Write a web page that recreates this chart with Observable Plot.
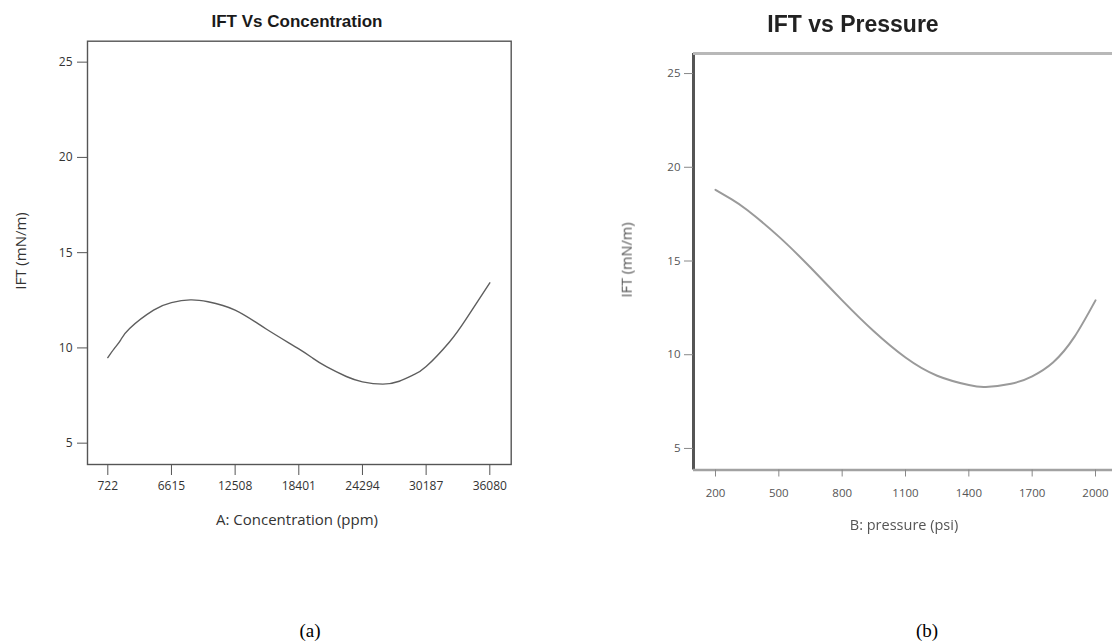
<!DOCTYPE html>
<html>
<head>
<meta charset="utf-8">
<script src="https://cdn.jsdelivr.net/npm/d3@7"></script>
<script src="https://cdn.jsdelivr.net/npm/@observablehq/plot@0.6"></script>
<style>
  html, body { margin: 0; padding: 0; background: #fff; }
  body { width: 1112px; height: 643px; overflow: hidden; position: relative; }
  .panel { position: absolute; top: 0; }
  .panel svg { max-width: none !important; }
  .txt { position: absolute; white-space: nowrap; transform: translate(-50%, -50%); line-height: 1; }
  .title { font-family: "Liberation Sans", Arial, sans-serif; font-weight: bold; color: #1a1a1a; }
  .axlab { font-family: "Open Sans", sans-serif; color: #333; }
  .vert { transform: translate(-50%, -50%) rotate(-90deg); }
  .cap { font-family: "Liberation Serif", "Times New Roman", serif; font-size: 19px; color: #000; }
  .soft { filter: blur(0.5px); }
</style>
</head>
<body>
<div id="panelA" class="panel" style="left:0; width:530px;"></div>
<div id="panelB" class="panel" style="left:560px; width:560px;"></div>

<div class="txt title" style="left:297px; top:21px; font-size:17px;">IFT Vs Concentration</div>
<div class="txt axlab vert" style="left:20px; top:251px; font-size:15px;">IFT (mN/m)</div>
<div class="txt axlab" style="left:297px; top:519px; font-size:15px;">A: Concentration (ppm)</div>

<div class="txt title soft" style="left:853px; top:24px; font-size:23px; color:#222;">IFT vs Pressure</div>
<div class="txt axlab vert soft" style="left:627px; top:260px; font-size:14.5px; color:#555;">IFT (mN/m)</div>
<div class="txt axlab soft" style="left:904px; top:525px; font-size:14.5px; color:#555;">B: pressure (psi)</div>

<div class="txt cap" style="left:310px; top:630px;">(a)</div>
<div class="txt cap" style="left:927px; top:630px;">(b)</div>

<script>
// Panel (a): IFT against surfactant concentration
const concPpm = [722, 1300, 1893, 2740, 4960, 6615, 8350, 10000, 12508, 15420, 18401, 19720, 21000, 22800, 24294, 26180, 27700, 29000, 30187, 32327, 33866, 36080];
const iftConc = [9.49, 9.95, 10.4, 11.02, 11.98, 12.38, 12.52, 12.42, 11.98, 10.98, 9.95, 9.45, 9.0, 8.5, 8.22, 8.1, 8.25, 8.58, 9.02, 10.3, 11.5, 13.42];
const concTicks = [722, 6615, 12508, 18401, 24294, 30187, 36080];

// Panel (b): IFT against pressure
const pressurePsi = [200, 275, 350, 500, 650, 800, 950, 1100, 1250, 1400, 1480, 1600, 1700, 1800, 1900, 2000];
const iftPressure = [18.8, 18.3, 17.72, 16.3, 14.65, 12.9, 11.25, 9.85, 8.88, 8.38, 8.28, 8.45, 8.85, 9.6, 10.95, 12.9];
const pressureTicks = [200, 500, 800, 1100, 1400, 1700, 2000];

const iftTicks = [5, 10, 15, 20, 25];

const concRows = concPpm.map((c, i) => ({c, ift: iftConc[i]}));
const pressRows = pressurePsi.map((p, i) => ({p, ift: iftPressure[i]}));

const plotA = Plot.plot({
  width: 530,
  height: 545,
  marginLeft: 87,
  marginRight: 19.3,
  marginTop: 40.7,
  marginBottom: 81,
  style: {fontFamily: "'Open Sans', sans-serif", fontSize: "12px", color: "#333", background: "transparent", overflow: "visible", maxWidth: "none"},
  x: {domain: [-1157, 38061]},
  y: {domain: [3.88, 26.1]},
  marks: [
    Plot.frame({stroke: "#555", strokeWidth: 1.4}),
    Plot.axisY({ticks: iftTicks, tickSize: 10, tickPadding: 5, label: null, stroke: "#555", fill: "#333", fontSize: 12}),
    Plot.axisX({ticks: concTicks, tickSize: 11, tickPadding: 6, tickFormat: d => String(d), label: null, stroke: "#555", fill: "#333", fontSize: 12}),
    Plot.line(concRows, {x: "c", y: "ift", curve: "natural", stroke: "#5e5e5e", strokeWidth: 1.4})
  ]
});
document.getElementById("panelA").appendChild(plotA);

// Right panel: its frame runs past the right edge of the page, so only the
// left, top and bottom edges are drawn; top and bottom edges are heavier
const yTop = 26.07, yBottom = 3.85, xLeft = 95.8;
const plotB = Plot.plot({
  width: 560,
  height: 545,
  marginLeft: 133,
  marginRight: 3,
  marginTop: 53,
  marginBottom: 75.5,
  style: {fontFamily: "'Open Sans', sans-serif", fontSize: "11.5px", color: "#555", background: "transparent", overflow: "visible", maxWidth: "none"},
  x: {domain: [xLeft, 2104.2]},
  y: {domain: [yBottom, yTop]},
  marks: [
    Plot.ruleX([xLeft], {stroke: "#555", strokeWidth: 3}),
    Plot.ruleY([yTop], {stroke: "#b8b8b8", strokeWidth: 3}),
    Plot.ruleY([yBottom], {stroke: "#a2a2a2", strokeWidth: 2.5}),
    Plot.axisY({ticks: iftTicks, tickSize: 9, tickPadding: 4, label: null, stroke: "#888", fill: "#555", fontSize: 11.5}),
    Plot.axisX({ticks: pressureTicks, tickSize: 7, tickPadding: 12, tickFormat: d => String(d), label: null, stroke: "#888", fill: "#555", fontSize: 11.5}),
    Plot.line(pressRows, {x: "p", y: "ift", curve: "natural", stroke: "#9a9a9a", strokeWidth: 2})
  ]
});
document.getElementById("panelB").appendChild(plotB);
</script>
</body>
</html>
